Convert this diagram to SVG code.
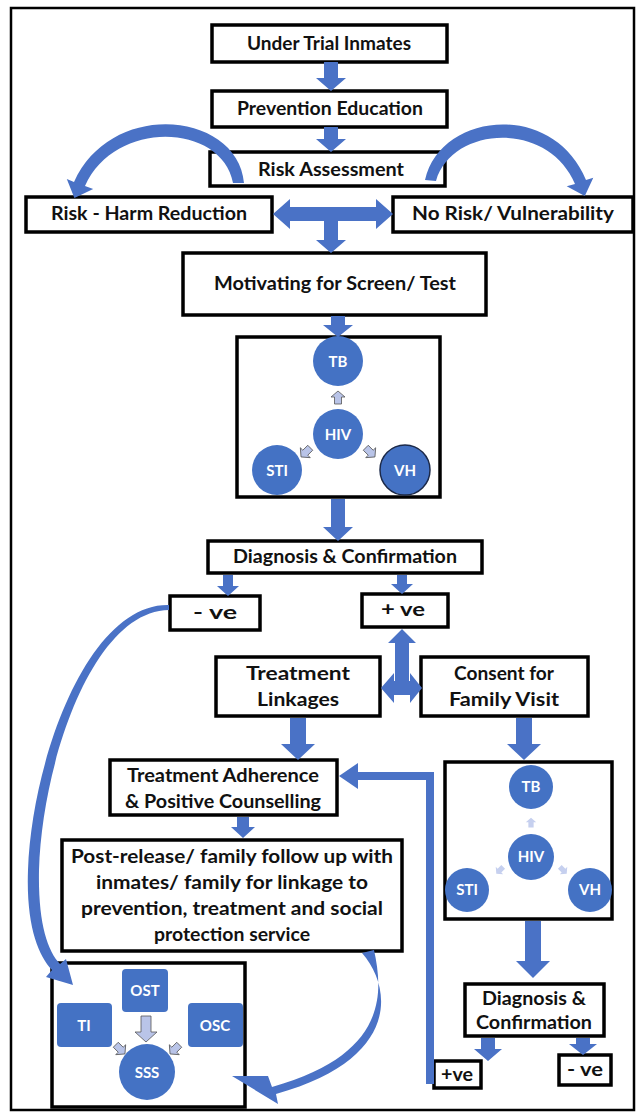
<svg xmlns="http://www.w3.org/2000/svg" width="638" height="1112" viewBox="0 0 638 1112">
<style>
.box{fill:#fff;stroke:#000;stroke-width:3.5}
.frame{fill:#fff;stroke:#000;stroke-width:2.5}
.t{font-family:Lato,"Liberation Sans",sans-serif;font-weight:700;font-size:18px;fill:#111;text-anchor:middle}
.w{font-family:Lato,"Liberation Sans",sans-serif;font-weight:700;font-size:15px;fill:#fff;text-anchor:middle}
.c{fill:#4472c4}
.blue{fill:#4a72c6}
.bline{fill:none;stroke:#4a72c6}
.sa{fill:#b9c4e8;stroke:#555;stroke-width:0.8}
.fa{fill:#c6d0ef}
</style>
<defs>
<path id="upA" d="M0,-7 L7,-1 L3.5,-1 L3.5,6 L-3.5,6 L-3.5,-1 L-7,-1 Z"/>
</defs>
<rect class="frame" x="11" y="8" width="623" height="1102"/>

<g id="n-under"><rect class="box" x="212" y="25" width="235" height="37"/><text class="t" x="329" y="50" textLength="164" lengthAdjust="spacingAndGlyphs">Under Trial Inmates</text></g>
<g id="n-prev"><rect class="box" x="212" y="91" width="235" height="36"/><text class="t" x="330" y="115" textLength="186" lengthAdjust="spacingAndGlyphs">Prevention Education</text></g>
<g id="n-risk"><rect class="box" x="210" y="152" width="235" height="34"/><text class="t" x="331" y="176" textLength="146" lengthAdjust="spacingAndGlyphs">Risk Assessment</text></g>
<g id="n-harm"><rect class="box" x="26" y="197" width="246" height="35"/><text class="t" x="149" y="220" textLength="196" lengthAdjust="spacingAndGlyphs">Risk - Harm Reduction</text></g>
<g id="n-norisk"><rect class="box" x="393" y="197" width="240" height="35"/><text class="t" x="513" y="220" textLength="202" lengthAdjust="spacingAndGlyphs">No Risk/ Vulnerability</text></g>
<g id="n-motiv"><rect class="box" x="183" y="253" width="303" height="62"/><text class="t" x="335" y="290" textLength="242" lengthAdjust="spacingAndGlyphs">Motivating for Screen/ Test</text></g>

<g id="n-screen1">
<rect class="box" x="237" y="337" width="203" height="160"/>
<circle class="c" cx="338" cy="361" r="25"/><text class="w" x="338" y="367">TB</text>
<circle class="c" cx="338" cy="434" r="25"/><text class="w" x="338" y="440">HIV</text>
<circle class="c" cx="277" cy="470" r="25"/><text class="w" x="277" y="476">STI</text>
<circle class="c" cx="405" cy="470" r="25" stroke="#1c2a4a" stroke-width="1.5"/><text class="w" x="405" y="476">VH</text>
<use href="#upA" class="sa" transform="translate(338,398)"/>
<use href="#upA" class="sa" transform="translate(306,452) rotate(225)"/>
<use href="#upA" class="sa" transform="translate(370,452) rotate(135)"/>
</g>

<g id="n-diag1"><rect class="box" x="208" y="541" width="274" height="32"/><text class="t" x="345" y="563" textLength="224" lengthAdjust="spacingAndGlyphs">Diagnosis &amp; Confirmation</text></g>
<g id="n-neg1"><rect class="box" x="170" y="596" width="90" height="34"/><text class="t" x="215" y="619" textLength="44" lengthAdjust="spacingAndGlyphs">- ve</text></g>
<g id="n-pos1"><rect class="box" x="362" y="594" width="86" height="33"/><text class="t" x="403" y="616" textLength="44" lengthAdjust="spacingAndGlyphs">+ ve</text></g>
<g id="n-link"><rect class="box" x="216" y="657" width="164" height="59"/><text class="t" x="298" y="680" textLength="104" lengthAdjust="spacingAndGlyphs">Treatment</text><text class="t" x="298" y="706" textLength="82" lengthAdjust="spacingAndGlyphs">Linkages</text></g>
<g id="n-consent"><rect class="box" x="421" y="657" width="167" height="59"/><text class="t" x="504" y="680" textLength="100" lengthAdjust="spacingAndGlyphs">Consent for</text><text class="t" x="504" y="706" textLength="110" lengthAdjust="spacingAndGlyphs">Family Visit</text></g>
<g id="n-adher"><rect class="box" x="110" y="760" width="227" height="55"/><text class="t" x="223" y="782" textLength="192" lengthAdjust="spacingAndGlyphs">Treatment Adherence</text><text class="t" x="223" y="808" textLength="196" lengthAdjust="spacingAndGlyphs">&amp; Positive Counselling</text></g>
<g id="n-post"><rect class="box" x="62" y="840" width="340" height="111"/>
<text class="t" x="232" y="863" textLength="322" lengthAdjust="spacingAndGlyphs">Post-release/ family follow up with</text>
<text class="t" x="232" y="889" textLength="272" lengthAdjust="spacingAndGlyphs">inmates/ family for linkage to</text>
<text class="t" x="232" y="915" textLength="302" lengthAdjust="spacingAndGlyphs">prevention, treatment and social</text>
<text class="t" x="232" y="941" textLength="156" lengthAdjust="spacingAndGlyphs">protection service</text></g>

<g id="n-screen2">
<rect class="box" x="445" y="762" width="167" height="157"/>
<circle class="c" cx="531" cy="787" r="22"/><text class="w" x="531" y="792">TB</text>
<circle class="c" cx="531" cy="857" r="23"/><text class="w" x="531" y="862">HIV</text>
<circle class="c" cx="467" cy="890" r="22"/><text class="w" x="467" y="895">STI</text>
<circle class="c" cx="590" cy="890" r="22"/><text class="w" x="590" y="895">VH</text>
<use href="#upA" class="fa" transform="translate(531,823) scale(0.75)"/>
<use href="#upA" class="fa" transform="translate(500,870) rotate(225) scale(0.75)"/>
<use href="#upA" class="fa" transform="translate(563,870) rotate(135) scale(0.75)"/>
</g>

<g id="n-diag2"><rect class="box" x="465" y="984" width="139" height="52"/><text class="t" x="534" y="1005" textLength="104" lengthAdjust="spacingAndGlyphs">Diagnosis &amp;</text><text class="t" x="534" y="1029" textLength="116" lengthAdjust="spacingAndGlyphs">Confirmation</text></g>
<g id="n-pos2"><rect class="box" x="434" y="1061" width="47" height="27"/><text class="t" x="457" y="1081" textLength="32" lengthAdjust="spacingAndGlyphs">+ve</text></g>
<g id="n-neg2"><rect class="box" x="559" y="1055" width="52" height="30"/><text class="t" x="585" y="1076" textLength="36" lengthAdjust="spacingAndGlyphs">- ve</text></g>

<g id="n-services">
<rect class="box" x="52" y="963" width="193" height="144"/>
<rect class="c" x="122" y="969" width="46" height="43" rx="4"/><text class="w" x="145" y="996" font-size="16">OST</text>
<rect class="c" x="57" y="1003" width="55" height="44" rx="4"/><text class="w" x="84" y="1031" font-size="16">TI</text>
<rect class="c" x="188" y="1003" width="55" height="44" rx="4"/><text class="w" x="215" y="1031" font-size="16">OSC</text>
<circle class="c" cx="147" cy="1072" r="28"/><text class="w" x="147" y="1078" font-size="16">SSS</text>
<polygon class="sa" points="141,1016 151,1016 151,1032 157,1032 146,1042 135,1032 141,1032"/>
<use href="#upA" class="sa" transform="translate(120,1049) rotate(135)"/>
<use href="#upA" class="sa" transform="translate(175,1049) rotate(225)"/>
</g>

<g id="connectors">
<polygon class="blue" points="324,62 338,62 338,78 346,78 331,91 316,78 324,78"/>
<polygon class="blue" points="324,127 338,127 338,139 346,139 331,152 316,139 324,139"/>
<path class="blue" d="M244,183 C238,112 112,98 74,182 L66.8,179.1 L74.4,198 L93.2,188.9 L85,186 C116,118 222,124 233,183 Z"/>
<path class="blue" d="M425,180 C440,112 553,100 586,180 L593.3,177.8 L584.8,196 L566.7,186.2 L575,184 C548,120 452,126 436,181 Z"/>
<polygon class="blue" points="273,214 290,199 290,207 376,207 376,199 393,214 376,229 376,221 338,221 338,240 346,240 331,253 316,240 324,240 324,221 290,221 290,229"/>
<polygon class="blue" points="331,316 345,316 345,325 353,325 338,337 323,325 331,325"/>
<polygon class="blue" points="331,499 345,499 345,527 353,527 338,541 323,527 331,527"/>
<polygon class="blue" points="223,575 233,575 233,586 239,586 228,596 217,586 223,586"/>
<polygon class="blue" points="397,575 407,575 407,584 413,584 402,594 391,584 397,584"/>
<polygon class="blue" points="402,629 416,643 409,643 409,681 410,681 410,673 422,688 410,703 410,695 394,695 394,703 381,688 394,673 394,681 395,681 395,643 388,643"/>
<path class="blue" d="M169,605 C88,603 32,760 28,870 C26,925 38,955 52,970 L46,977 L73,985 L66,959 L60,964 C47,950 38,922 39,870 C42,765 92,611 169,610 Z"/>
<polygon class="blue" points="290,718 306,718 306,744 315,744 298,760 281,744 290,744"/>
<polygon class="blue" points="516,718 532,718 532,744 541,744 524,760 507,744 516,744"/>
<polygon class="blue" points="237,817 249,817 249,827 255,827 243,838 231,827 237,827"/>
<polygon class="blue" points="525,921 541,921 541,961 550,961 533,978 516,961 525,961"/>
<polygon class="blue" points="481,1038 495,1038 495,1049 502,1049 488,1061 474,1049 481,1049"/>
<polygon class="blue" points="576,1038 590,1038 590,1044 597,1044 583,1055 569,1044 576,1044"/>
<path class="bline" stroke-width="8" d="M430,1084 L430,776 L356,776"/>
<polygon class="blue" points="339,776 358,763 358,789"/>
<path class="blue" d="M362,953 C394,990 398,1060 276,1094 L278,1104 L232,1076 L268,1076 L272,1087 C386,1055 384,995 374,950 Z"/>
</g>
</svg>
